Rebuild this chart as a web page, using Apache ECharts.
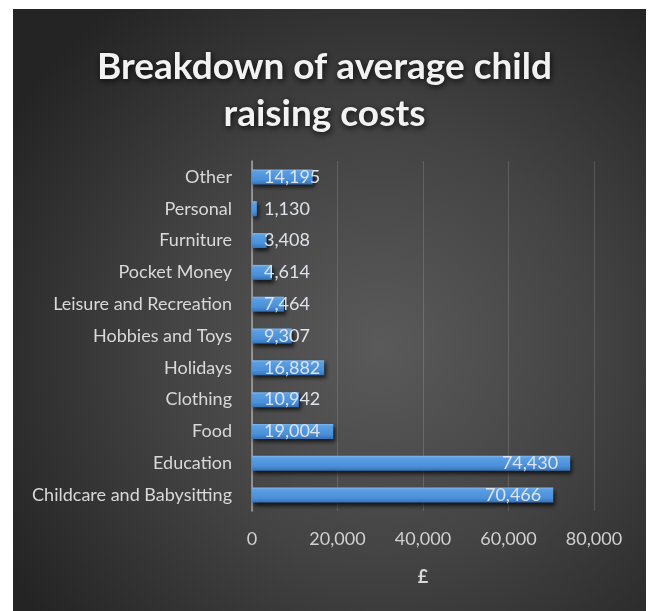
<!DOCTYPE html>
<html>
<head>
<meta charset="utf-8">
<script src="https://cdn.jsdelivr.net/npm/echarts@6/dist/echarts.min.js"></script>
<style>
  html, body { margin: 0; padding: 0; background: #ffffff; }
  #chart { width: 649px; height: 611px; }
</style>
</head>
<body>
<div id="chart"></div>
<script>
// Cost categories, listed top to bottom
const categories = [
  'Other', 'Personal', 'Furniture', 'Pocket Money', 'Leisure and Recreation',
  'Hobbies and Toys', 'Holidays', 'Clothing', 'Food', 'Education',
  'Childcare and Babysitting'
];
// Average cost per category (£)
const costs = [14195, 1130, 3408, 4614, 7464, 9307, 16882, 10942, 19004, 74430, 70466];
// Value axis ticks
const xTicks = [0, 20000, 40000, 60000, 80000];

const labelFont = '"Lato", sans-serif';
const fmt = v => v.toLocaleString('en-GB');

const chart = echarts.init(document.getElementById('chart'), null, { renderer: 'canvas' });

// Long bars carry their label at the end, short ones from the base
const barData = costs.map(v => ({
  value: v,
  label: { position: v > 30000 ? 'insideRight' : 'insideLeft' }
}));

chart.setOption({
  backgroundColor: '#ffffff',
  animation: false,
  graphic: [{
    type: 'rect',
    z: -10,
    silent: true,
    shape: { x: 13, y: 9, width: 633, height: 602 },
    style: {
      fill: {
        type: 'radial', x: 0.58, y: 0.56, r: 0.72,
        colorStops: [
          { offset: 0, color: '#5a5a5a' },
          { offset: 0.5, color: '#434343' },
          { offset: 1, color: '#242424' }
        ]
      }
    }
  }],
  title: {
    text: 'Breakdown of average child\nraising costs',
    left: 'center',
    top: 39,
    textStyle: {
      fontFamily: '"Lato", sans-serif',
      fontWeight: 'bold',
      fontSize: 37,
      lineHeight: 47,
      color: '#f2f2f2',
      textShadowColor: 'rgba(0,0,0,0.85)',
      textShadowBlur: 6,
      textShadowOffsetX: 1,
      textShadowOffsetY: 2
    }
  },
  grid: { left: 252, right: 55, top: 161, bottom: 100, containLabel: false },
  xAxis: {
    type: 'value',
    min: xTicks[0],
    max: xTicks[xTicks.length - 1],
    interval: xTicks[1] - xTicks[0],
    name: '£',
    nameLocation: 'middle',
    nameGap: 57,
    nameTextStyle: {
      color: '#d9d9d9', fontSize: 18, fontWeight: 'bold', fontFamily: labelFont
    },
    axisLine: { show: false },
    axisTick: { show: false },
    axisLabel: {
      color: '#d0d0d0', fontSize: 18, fontFamily: labelFont, margin: 19,
      formatter: v => fmt(v)
    },
    splitLine: { show: true, lineStyle: { color: 'rgba(255,255,255,0.14)', width: 1 } }
  },
  yAxis: {
    type: 'category',
    inverse: true,
    data: categories,
    axisLine: { show: true, lineStyle: { color: '#a6a6a6', width: 1.5 } },
    axisTick: { show: false },
    axisLabel: {
      color: '#d9d9d9', fontSize: 18, fontFamily: labelFont, margin: 20
    },
    splitLine: { show: false }
  },
  series: [{
    type: 'bar',
    data: barData,
    barWidth: 15,
    itemStyle: {
      color: {
        type: 'linear', x: 0, y: 0, x2: 0, y2: 1,
        colorStops: [
          { offset: 0, color: '#7fb6ec' },
          { offset: 0.15, color: '#5a9fe3' },
          { offset: 0.7, color: '#4a8fd8' },
          { offset: 1, color: '#3472b8' }
        ]
      },
      shadowColor: 'rgba(0,0,0,0.7)',
      shadowBlur: 4,
      shadowOffsetX: 2,
      shadowOffsetY: 3
    },
    label: {
      show: true,
      distance: 12,
      color: '#dde3ea',
      fontSize: 18,
      fontFamily: labelFont,
      formatter: p => fmt(p.value)
    }
  }]
});
</script>
</body>
</html>
